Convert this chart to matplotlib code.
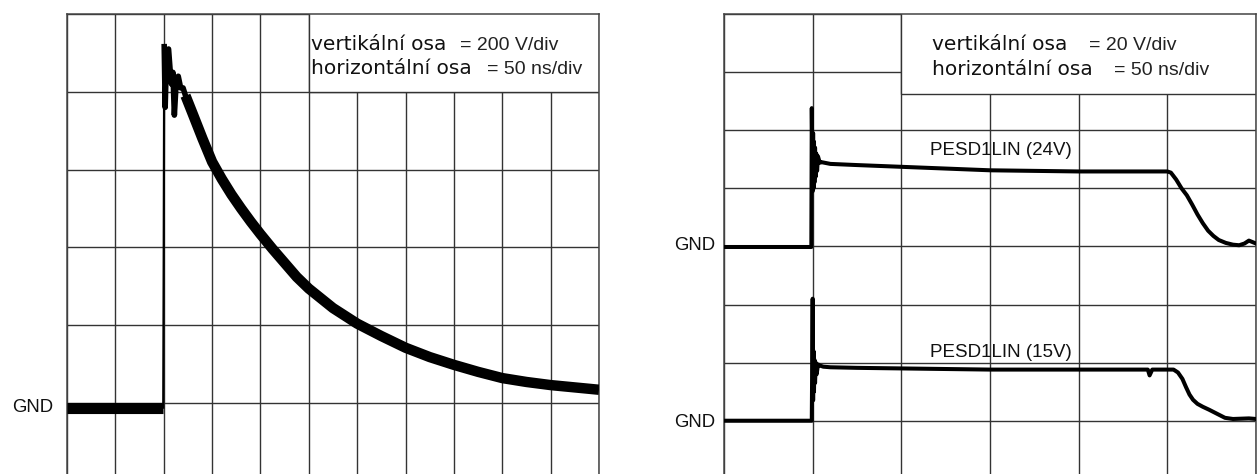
import matplotlib
matplotlib.use("Agg")
import matplotlib.pyplot as plt
from matplotlib.patches import Rectangle

# ---------------- data (in screen divisions) ----------------
# left: single ESD pulse, 200 V/div, 50 ns/div
base_t = [0.0, 0.5, 1.0, 1.5, 1.99]
base_v = [-0.06, -0.06, -0.06, -0.06, -0.06]

rise_t = [1.99, 2.0, 2.01]
rise_v = [-0.06, 2.0, 4.58]

ring_t = [2.01, 2.03, 2.06, 2.10, 2.13, 2.16, 2.19, 2.22, 2.26, 2.30, 2.35, 2.40, 2.45]
ring_v = [4.58, 3.80, 4.50, 4.55, 4.30, 4.10, 4.25, 3.70, 4.15, 4.20, 4.05, 4.05, 3.95]

decay_t = [2.45, 2.61, 2.8, 3.0, 3.2, 3.4, 3.6, 3.8, 4.0, 4.25, 4.5, 4.75, 5.0, 5.5,
           6.0, 6.5, 7.0, 7.5, 8.0, 8.5, 9.0, 9.5, 10.0, 10.5, 11.0]
decay_v = [3.95, 3.70, 3.40, 3.10, 2.88, 2.68, 2.50, 2.33, 2.17, 1.98, 1.80, 1.62,
           1.47, 1.22, 1.02, 0.86, 0.71, 0.59, 0.49, 0.40, 0.32, 0.27, 0.23, 0.20,
           0.17]

# right: clamped waveforms, 20 V/div, 50 ns/div
r24_t = [0.0, 0.5, 0.985, 0.99, 1.0, 1.005, 1.01, 1.015, 1.02, 1.027, 1.034, 1.04,
         1.05, 1.06, 1.08, 1.1, 1.2, 1.5, 2.0, 2.5, 3.0, 3.5, 4.0, 4.5, 5.0, 5.04,
         5.1, 5.16, 5.22, 5.28, 5.34, 5.40, 5.46, 5.52, 5.58, 5.66, 5.74, 5.81,
         5.87, 5.92, 6.0]
r24_v = [2.99, 2.99, 2.99, 5.38, 3.95, 4.95, 4.0, 4.8, 4.1, 4.7, 4.2, 4.6, 4.3, 4.55,
         4.44, 4.45, 4.42, 4.40, 4.37, 4.34, 4.31, 4.30, 4.29, 4.29, 4.29, 4.27,
         4.15, 4.0, 3.88, 3.72, 3.55, 3.40, 3.27, 3.18, 3.11, 3.06, 3.03, 3.02,
         3.05, 3.10, 3.05]

r15_t = [0.0, 0.5, 0.99, 1.0, 1.005, 1.01, 1.015, 1.02, 1.027, 1.035, 1.045, 1.06,
         1.08, 1.12, 1.2, 1.5, 2.0, 2.5, 3.0, 3.5, 4.0, 4.5, 4.78, 4.8, 4.83, 5.0,
         5.07, 5.12, 5.17, 5.21, 5.25, 5.29, 5.34, 5.40, 5.47, 5.56, 5.65, 5.74,
         5.92, 6.0]
r15_v = [0.0, 0.0, 0.0, 2.1, 0.35, 1.2, 0.5, 1.05, 0.65, 1.0, 0.8, 0.97, 0.95, 0.93,
         0.92, 0.91, 0.90, 0.89, 0.88, 0.88, 0.88, 0.88, 0.88, 0.78, 0.88, 0.88,
         0.88, 0.83, 0.72, 0.58, 0.45, 0.36, 0.29, 0.24, 0.19, 0.12, 0.05, 0.03,
         0.04, 0.03]

left_labels = ["vertikální osa", "= 200 V/div", "horizontální osa", "= 50 ns/div"]
right_labels = ["vertikální osa", "= 20 V/div", "horizontální osa", "= 50 ns/div"]
trace_labels = ["PESD1LIN (24V)", "PESD1LIN (15V)"]
gnd_label = "GND"

# ---------------- figure ----------------
W, H = 1259, 474
fig = plt.figure(figsize=(W / 100, H / 100), dpi=100)
plt.rcParams['font.family'] = ['Liberation Sans', 'DejaVu Sans']

GRID = '#333333'
INK = '#111111'


def make_axes(x0, x1, ytop, nx, ylo, yhi):
    ax = fig.add_axes([x0 / W, 0, (x1 - x0) / W, (H - ytop) / H])
    ax.set_xlim(0, nx)
    ax.set_ylim(ylo, yhi)
    ax.set_xticks(range(0, nx + 1))
    ax.set_yticks(range(0, int(yhi) + 1))
    ax.tick_params(length=0, labelbottom=False, labelleft=False)
    ax.grid(True, color=GRID, lw=1.0)
    for s in ('left', 'right', 'top'):
        ax.spines[s].set_color('#444444')
        ax.spines[s].set_linewidth(1.1)
    ax.spines['bottom'].set_visible(False)
    ax.set_facecolor('white')
    return ax


fs_lab = 14.5   # "vertikální osa" part
fs_val = 14.0   # "= ... /div" part

# left panel
axL = make_axes(67, 599, 14, 11, -0.913, 5.0)
axL.add_patch(Rectangle((5, 4), 6, 1.2, facecolor='white', edgecolor=GRID,
                        lw=1.0, zorder=1.8, clip_on=True))
axL.plot(base_t, base_v, color='black', lw=8, solid_capstyle='butt', zorder=3)
axL.plot(rise_t, rise_v, color='black', lw=1.6, zorder=3)
axL.plot(ring_t, ring_v, color='black', lw=4.0, zorder=3)
axL.plot(decay_t, decay_v, color='black', lw=7.5, solid_capstyle='butt', zorder=3)

axL.text(5.04, 4.537, left_labels[0], family=['DejaVu Sans'], fontsize=fs_lab,
         color=INK, ha='left', va='baseline', zorder=4)
axL.text(10.15, 4.537, left_labels[1], fontsize=fs_val, color='#222222',
         ha='right', va='baseline', zorder=4)
axL.text(5.04, 4.229, left_labels[2], family=['DejaVu Sans'], fontsize=fs_lab,
         color=INK, ha='left', va='baseline', zorder=4)
axL.text(10.65, 4.229, left_labels[3], fontsize=fs_val, color='#222222',
         ha='right', va='baseline', zorder=4)
axL.text(-0.29, -0.064, gnd_label, fontsize=13.4, ha='right', va='center',
         color=INK, clip_on=False)

# right panel
axR = make_axes(724, 1256, 14, 6, -0.917, 7.0)
axR.add_patch(Rectangle((2, 5.62), 4, 1.6, facecolor='white', edgecolor=GRID,
                        lw=1.0, zorder=1.8, clip_on=True))
axR.plot(r24_t, r24_v, color='black', lw=2.9, zorder=3)
axR.plot(r15_t, r15_v, color='black', lw=2.9, zorder=3)

axR.text(2.35, 6.38, right_labels[0], family=['DejaVu Sans'], fontsize=fs_lab,
         color=INK, ha='left', va='baseline', zorder=4)
axR.text(5.10, 6.38, right_labels[1], fontsize=fs_val, color='#222222',
         ha='right', va='baseline', zorder=4)
axR.text(2.35, 5.95, right_labels[2], family=['DejaVu Sans'], fontsize=fs_lab,
         color=INK, ha='left', va='baseline', zorder=4)
axR.text(5.47, 5.95, right_labels[3], fontsize=fs_val, color='#222222',
         ha='right', va='baseline', zorder=4)

axR.text(2.32, 4.573, trace_labels[0], fontsize=13.5, ha='left', va='baseline',
         color=INK, zorder=4)
axR.text(2.32, 1.10, trace_labels[1], fontsize=13.5, ha='left', va='baseline',
         color=INK, zorder=4)
axR.text(-0.10, 3.02, gnd_label, fontsize=13.4, ha='right', va='center',
         color=INK, clip_on=False)
axR.text(-0.10, -0.03, gnd_label, fontsize=13.4, ha='right', va='center',
         color=INK, clip_on=False)

fig.savefig('out.png', dpi=100, facecolor='white')
